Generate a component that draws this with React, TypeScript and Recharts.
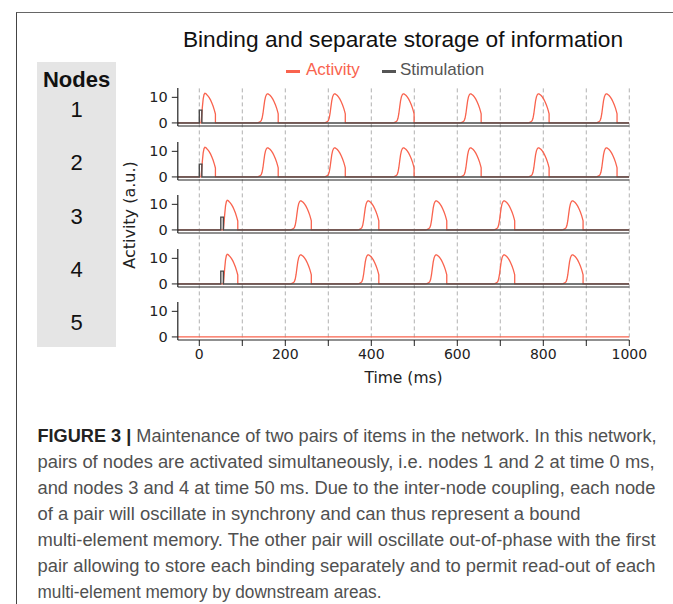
import React from 'react';
import { LineChart, Line, XAxis, YAxis, CartesianGrid } from 'recharts';

// time axis (ms)
const timeDomain = [-50, 1000];
const gridTimes = [0, 100, 200, 300, 400, 500, 600, 700, 800, 900, 1000];
const yTicks = [0, 10];
const nodeLabels = ['1', '2', '3', '4', '5'];

// peak times of the activity bursts, read per row
const node1Peaks = [13, 159, 315, 475, 631, 789, 947];
const node2Peaks = [13, 159, 315, 475, 631, 789, 947];
const node3Peaks = [65, 236, 393, 551, 709, 868];
const node4Peaks = [65, 236, 393, 551, 709, 868];
const node5Peaks: number[] = [];

// stimulation pulses: [start ms, end ms, amplitude]
const node1Stim = [[0, 6, 5]];
const node2Stim = [[0, 6, 5]];
const node3Stim = [[50, 56, 5]];
const node4Stim = [[50, 56, 5]];
const node5Stim: number[][] = [];

// burst profile: [ms from peak, activity]
const spikeShape = [
  [-26, 0], [-22, 0.15], [-18, 0.4], [-15, 0.9], [-13, 1.8], [-11, 3.6], [-9, 6.2],
  [-7, 8.6], [-5, 10.2], [-3, 11.0], [-1, 11.35], [1, 11.35], [3, 11.1], [6, 10.7],
  [9, 10.1], [12, 9.3], [15, 8.3], [18, 7.1], [21, 5.7], [23, 4.5], [24.5, 3.6], [24.5, 0],
];
// first burst, right after the stimulus (no slow foot)
const firstSpikeShape = [
  [-9, 0], [-8, 1.8], [-6, 6], [-4, 9.4], [-2, 11.1], [0, 11.6], [2, 11.5], [4, 11.1],
  [7, 10.6], [10, 9.9], [13, 9], [16, 7.9], [19, 6.6], [22, 5], [24, 3.8], [24.5, 3.5],
  [24.5, 0],
];

const ACTIVITY = '#F9634E';
const STIM = '#4a4a4a';
const AXIS = '#222';
const TICK_FONT = '"DejaVu Sans", sans-serif';
const HELV = '"Liberation Sans", Arial, sans-serif';

// layout
const PLOT_LEFT = 177.8;
const PLOT_RIGHT = 629.3;
const PANEL_H = 38;
const PANEL_TOP0 = 88.4;
const PANEL_STEP = 53.5;
const PAD = 6;

type Pt = { t: number; v: number };

const activitySeries = (peaks: number[], evoked: boolean): Pt[] => {
  const pts: Pt[] = [{ t: timeDomain[0], v: 0 }];
  peaks.forEach((p, i) => {
    const shape = evoked && i === 0 ? firstSpikeShape : spikeShape;
    shape.forEach(([dt, v]) => pts.push({ t: p + dt, v }));
  });
  pts.push({ t: timeDomain[1], v: 0 });
  return pts;
};

const stimSeries = (pulses: number[][]): Pt[] => {
  if (!pulses.length) return [];
  const pts: Pt[] = [{ t: timeDomain[0], v: 0 }];
  pulses.forEach(([s, e, a]) => {
    pts.push({ t: s, v: 0 }, { t: s, v: a }, { t: e, v: a }, { t: e, v: 0 });
  });
  pts.push({ t: timeDomain[1], v: 0 });
  return pts;
};

const rows = [
  { act: activitySeries(node1Peaks, true), stim: stimSeries(node1Stim) },
  { act: activitySeries(node2Peaks, true), stim: stimSeries(node2Stim) },
  { act: activitySeries(node3Peaks, true), stim: stimSeries(node3Stim) },
  { act: activitySeries(node4Peaks, true), stim: stimSeries(node4Stim) },
  { act: activitySeries(node5Peaks, false), stim: stimSeries(node5Stim) },
];

const captionLines = [
  { bold: 'FIGURE 3 | ', text: 'Maintenance of two pairs of items in the network. In this network,', w: 619 },
  { bold: '', text: 'pairs of nodes are activated simultaneously, i.e. nodes 1 and 2 at time 0 ms,', w: 617 },
  { bold: '', text: 'and nodes 3 and 4 at time 50 ms. Due to the inter-node coupling, each node', w: 618 },
  { bold: '', text: 'of a pair will oscillate in synchrony and can thus represent a bound', w: 543 },
  { bold: '', text: 'multi-element memory. The other pair will oscillate out-of-phase with the first', w: 618 },
  { bold: '', text: 'pair allowing to store each binding separately and to permit read-out of each', w: 618 },
  { bold: '', text: 'multi-element memory by downstream areas.', w: 344 },
];

const Panel = ({ idx }: { idx: number }) => {
  const row = rows[idx];
  const last = idx === rows.length - 1;
  const xH = last ? 46 : 1;
  const top = PANEL_TOP0 + idx * PANEL_STEP - PAD;
  return (
    <div style={{ position: 'absolute', left: 0, top }}>
      <LineChart
        width={673}
        height={PANEL_H + 2 * PAD + xH}
        margin={{ top: PAD, right: 673 - PLOT_RIGHT, bottom: PAD, left: 0 }}
      >
        <XAxis
          type="number"
          dataKey="t"
          domain={timeDomain}
          allowDataOverflow
          ticks={gridTimes}
          interval={0}
          height={xH}
          tick={last ? { fontSize: 14, fill: AXIS, fontFamily: TICK_FONT } : false}
          tickFormatter={(t: number) => (t % 200 === 0 ? String(t) : '')}
          tickLine={last ? { stroke: AXIS } : false}
          tickSize={6}
          tickMargin={3}
          axisLine={{ stroke: AXIS, strokeWidth: 1.2 }}
          label={last ? {
            value: 'Time (ms)', position: 'insideBottom', offset: 3,
            style: { fontSize: 15.5, fill: AXIS, fontFamily: TICK_FONT },
          } : undefined}
        />
        <YAxis
          type="number"
          domain={[-1.2, 13.65]}
          allowDataOverflow
          ticks={yTicks}
          width={PLOT_LEFT}
          tickSize={6}
          tickMargin={4}
          tick={{ fontSize: 14.5, fill: AXIS, fontFamily: TICK_FONT }}
          tickLine={{ stroke: AXIS }}
          axisLine={{ stroke: AXIS, strokeWidth: 1.2 }}
        />
        <Line
          data={row.act}
          dataKey="v"
          type="linear"
          stroke={ACTIVITY}
          strokeWidth={1.3}
          dot={false}
          isAnimationActive={false}
          name="Activity"
        />
        {row.stim.length > 0 && (
          <Line
            data={row.stim}
            dataKey="v"
            type="linear"
            stroke={STIM}
            strokeWidth={1.4}
            dot={false}
            isAnimationActive={false}
            name="Stimulation"
          />
        )}
      </LineChart>
    </div>
  );
};

// dashed time grid running through all five rows
const GridOverlay = () => {
  const top = PANEL_TOP0;
  const bottom = PANEL_TOP0 + 4 * PANEL_STEP + PANEL_H + 1;
  return (
    <div style={{ position: 'absolute', left: 0, top: 0 }}>
      <LineChart
        width={673}
        height={bottom + 10}
        data={gridTimes.map((t) => ({ t, v: 0 }))}
        margin={{ top, right: 673 - PLOT_RIGHT, bottom: 10, left: PLOT_LEFT }}
      >
        <CartesianGrid
          horizontal={false}
          stroke="#a8a8a8"
          strokeWidth={0.9}
          strokeDasharray="4 3"
          syncWithTicks
        />
        <XAxis
          type="number"
          dataKey="t"
          domain={timeDomain}
          allowDataOverflow
          ticks={gridTimes}
          interval={0}
          height={0}
          tick={() => <g />}
          tickLine={false}
          axisLine={false}
        />
        <YAxis type="number" domain={[0, 1]} width={0} tick={false} tickLine={false} axisLine={false} />
        <Line dataKey="v" stroke="none" dot={false} isAnimationActive={false} legendType="none" />
      </LineChart>
    </div>
  );
};

const App = () => {
  return (
    <div
      style={{
        position: 'absolute', left: 0, top: 0, width: 673, height: 604,
        background: '#fff', overflow: 'hidden',
      }}
    >
      {/* frame */}
      <div style={{
        position: 'absolute', left: 16, top: 12, width: 700, height: 700,
        borderTop: '1px solid #666', borderLeft: '1px solid #444',
      }} />

      {/* title */}
      <div style={{
        position: 'absolute', left: 0, width: 806, top: 26, textAlign: 'center',
        fontFamily: HELV, fontSize: 22.7, color: '#111', whiteSpace: 'nowrap',
      }}>
        Binding and separate storage of information
      </div>

      {/* legend */}
      <div style={{ position: 'absolute', left: 286, top: 71, height: 0 }}>
        <div style={{ position: 'absolute', left: 0, top: -1.5, width: 14, height: 3, background: ACTIVITY }} />
        <div style={{
          position: 'absolute', left: 20, top: -11, fontFamily: HELV, fontSize: 17,
          color: ACTIVITY, whiteSpace: 'nowrap', lineHeight: '20px',
        }}>Activity</div>
        <div style={{ position: 'absolute', left: 96, top: -1.5, width: 14, height: 3, background: '#555' }} />
        <div style={{
          position: 'absolute', left: 114, top: -11, fontFamily: HELV, fontSize: 17,
          color: '#555', whiteSpace: 'nowrap', lineHeight: '20px',
        }}>Stimulation</div>
      </div>

      {/* node labels */}
      <div style={{ position: 'absolute', left: 37, top: 62, width: 79, height: 285, background: '#e5e5e5' }} />
      <div style={{
        position: 'absolute', left: 37, width: 79, top: 67, textAlign: 'center',
        fontFamily: HELV, fontSize: 22, fontWeight: 'bold', color: '#111', lineHeight: '26px',
      }}>Nodes</div>
      {nodeLabels.map((n, i) => (
        <div key={n} style={{
          position: 'absolute', left: 37, width: 79, top: 97 + i * 53.3, textAlign: 'center',
          fontFamily: HELV, fontSize: 22, color: '#111', lineHeight: '26px',
        }}>{n}</div>
      ))}

      <GridOverlay />
      {rows.map((_, i) => <Panel key={i} idx={i} />)}

      {/* y label */}
      <div style={{
        position: 'absolute', left: 129, top: 215, transform: 'translate(-50%, -50%) rotate(-90deg)',
        fontFamily: TICK_FONT, fontSize: 16, color: AXIS, whiteSpace: 'nowrap',
      }}>Activity (a.u.)</div>

      {/* caption */}
      <svg width={673} height={204} style={{ position: 'absolute', left: 0, top: 400 }}>
        {captionLines.map((l, i) => (
          <text
            key={i}
            x={37.5}
            y={42 + i * 26}
            fontFamily={HELV}
            fontSize={17.5}
            fill="#505050"
            textLength={l.w}
            lengthAdjust="spacingAndGlyphs"
          >
            {l.bold && <tspan fontWeight="bold" fill="#222">{l.bold}</tspan>}
            {l.text}
          </text>
        ))}
      </svg>
    </div>
  );
};

export default App;
